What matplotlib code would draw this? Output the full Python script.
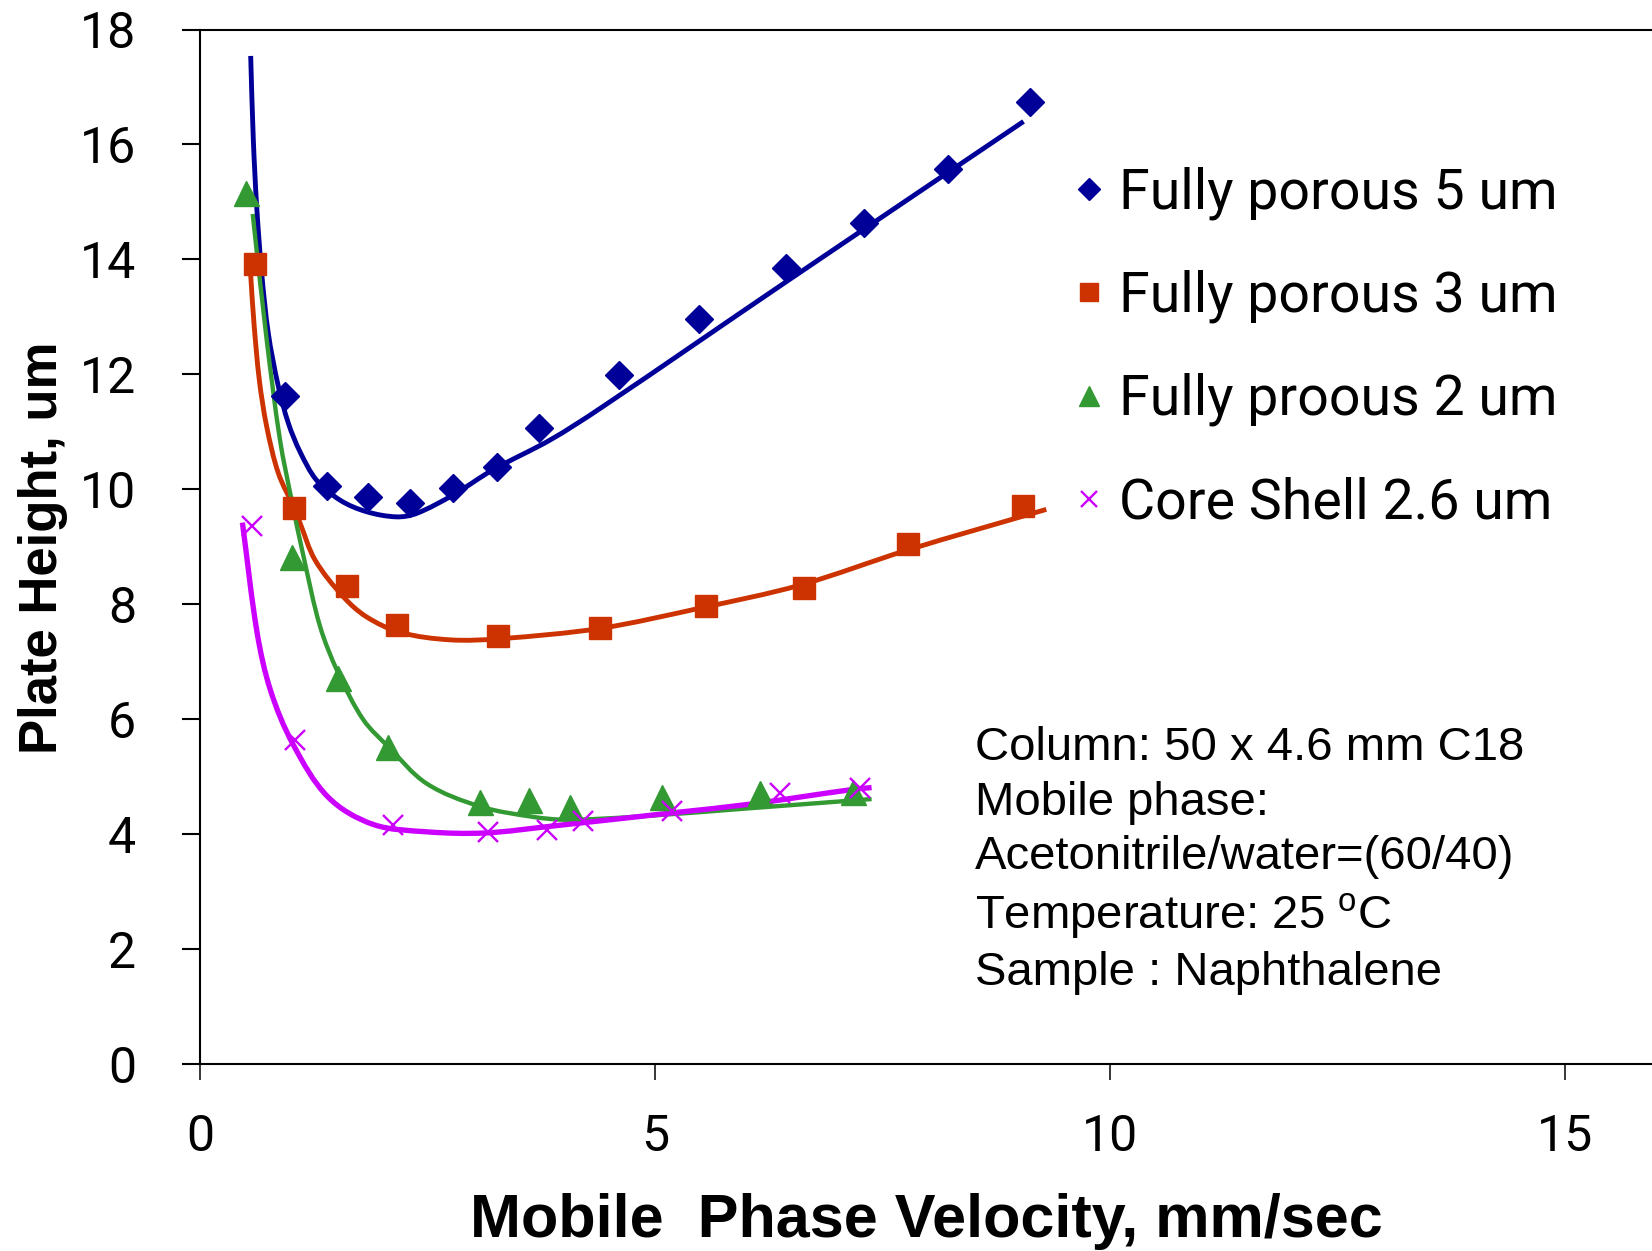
import matplotlib
matplotlib.use("Agg")
import matplotlib.pyplot as plt
from matplotlib import font_manager
from matplotlib.path import Path
from matplotlib.patches import PathPatch
import numpy as np

names = {f.name for f in font_manager.fontManager.ttflist}
NARROW = "Liberation Sans Narrow" if "Liberation Sans Narrow" in names else "Roboto"
SANS = "Liberation Sans"

plt.rcParams['mathtext.fontset'] = 'custom'
plt.rcParams['mathtext.rm'] = SANS

# ---------------- data ----------------
fp5_x = [0.934, 1.392, 1.85, 2.31, 2.78, 3.26, 3.72, 4.60, 5.48, 6.44, 7.30, 8.22, 9.12]
fp5_y = [11.63, 10.05, 9.87, 9.76, 10.02, 10.39, 11.07, 11.99, 12.96, 13.85, 14.63, 15.57, 16.73]
fp5_fit_x = [0.557, 0.586, 0.623, 0.678, 0.751, 0.861, 0.971, 1.10, 1.28, 1.54, 1.83, 2.16, 2.38,
             2.78, 3.22, 3.85, 4.40, 6.45, 9.05]
fp5_fit_y = [17.54, 16.08, 14.92, 13.76, 12.71, 11.79, 11.15, 10.65, 10.16, 9.81, 9.61, 9.52, 9.58,
             9.90, 10.34, 10.86, 11.41, 13.62, 16.40]

fp3_x = [0.604, 1.036, 1.62, 2.16, 3.27, 4.40, 5.56, 6.64, 7.78, 9.04]
fp3_y = [13.92, 9.67, 8.31, 7.63, 7.45, 7.58, 7.97, 8.28, 9.05, 9.71]
fp3_fit_x = [0.557, 0.593, 0.652, 0.733, 0.861, 1.036, 1.10, 1.264, 1.575, 1.83, 2.20, 2.75, 3.30,
             4.40, 5.49, 6.59, 7.77, 9.30]
fp3_fit_y = [13.73, 12.89, 11.90, 11.09, 10.28, 9.67, 9.41, 8.77, 8.13, 7.78, 7.51, 7.38, 7.40,
             7.58, 7.93, 8.33, 8.94, 9.65]

fp2_x = [0.502, 1.01, 1.52, 2.07, 3.08, 3.61, 4.07, 5.08, 6.15, 7.18]
fp2_y = [15.16, 8.82, 6.71, 5.51, 4.56, 4.59, 4.48, 4.64, 4.71, 4.74]
fp2_fit_x = [0.579, 0.733, 0.879, 1.007, 1.135, 1.32, 1.52, 1.795, 2.07, 2.49, 3.08, 3.66, 4.03,
             4.76, 6.04, 7.38]
fp2_fit_y = [14.79, 12.60, 10.86, 9.81, 8.85, 7.61, 6.80, 5.99, 5.52, 4.88, 4.48, 4.30, 4.25,
             4.30, 4.45, 4.61]

cs_x = [0.568, 1.044, 2.12, 3.17, 3.81, 4.21, 5.19, 6.37, 7.25]
cs_y = [9.36, 5.64, 4.16, 4.04, 4.07, 4.22, 4.41, 4.71, 4.81]
cs_fit_x = [0.466, 0.628, 0.775, 1.02, 1.41, 1.90, 2.49, 3.13, 3.87, 5.19, 6.04, 7.14, 7.38]
cs_fit_y = [9.42, 7.50, 6.50, 5.57, 4.64, 4.17, 4.04, 4.02, 4.14, 4.37, 4.52, 4.77, 4.81]

labels = ["Fully porous 5 um", "Fully porous 3 um", "Fully proous 2 um", "Core Shell 2.6 um"]
x_ticks = [0, 5, 10, 15]
y_ticks = [0, 2, 4, 6, 8, 10, 12, 14, 16, 18]
note_lines = ["Column: 50 x 4.6 mm C18", "Mobile phase:", "Acetonitrile/water=(60/40)",
              "Temperature: 25 $^{\\mathrm{o}}$C", "Sample : Naphthalene"]

# ---------------- figure ----------------
W, H = 1652, 1251
fig = plt.figure(figsize=(W / 100, H / 100), dpi=100)
ax = fig.add_axes([200 / W, 1 - 1064 / H, 1 - 200 / W, (1064 - 29.5) / H])

BLUE, RED, GREEN, MAG = "#000099", "#CC3300", "#339933", "#CC00FF"
LW = 3.5


def smooth_line(ax, xs, ys, color, lw):
    """Excel-style smoothed line: cubic Bezier segments through the given points."""
    P = np.column_stack([xs, ys]).astype(float)
    sx, sy = 91.0, 57.47          # metric so tangents are computed in screen-like space
    Q = P * [sx, sy]
    n = len(Q)
    T = np.zeros_like(Q)
    for i in range(n):
        a = Q[max(i - 1, 0)]
        b = Q[min(i + 1, n - 1)]
        d = b - a
        T[i] = d / np.linalg.norm(d)
    verts = [tuple(P[0])]
    codes = [Path.MOVETO]
    for i in range(n - 1):
        L = np.linalg.norm(Q[i + 1] - Q[i]) / 3.0
        c1 = (Q[i] + T[i] * L) / [sx, sy]
        c2 = (Q[i + 1] - T[i + 1] * L) / [sx, sy]
        verts += [tuple(c1), tuple(c2), tuple(P[i + 1])]
        codes += [Path.CURVE4] * 3
    ax.add_patch(PathPatch(Path(verts, codes), fill=False, edgecolor=color, lw=lw,
                           capstyle="butt", joinstyle="round", zorder=2))


smooth_line(ax, fp5_fit_x, fp5_fit_y, BLUE, LW)
smooth_line(ax, fp3_fit_x, fp3_fit_y, RED, LW)
smooth_line(ax, fp2_fit_x, fp2_fit_y, GREEN, LW * 0.9)
smooth_line(ax, cs_fit_x, cs_fit_y, MAG, LW * 1.1)

h1, = ax.plot(fp5_x, fp5_y, ls="none", marker="D", ms=14, color=BLUE, mec=BLUE, label=labels[0], zorder=3)
h2, = ax.plot(fp3_x, fp3_y, ls="none", marker="s", ms=16.5, color=RED, mec=RED, label=labels[1], zorder=3)
h3, = ax.plot(fp2_x, fp2_y, ls="none", marker="^", ms=18, color=GREEN, mec=GREEN, label=labels[2], zorder=3)
h4, = ax.plot(cs_x, cs_y, ls="none", marker="x", ms=15, mew=1.7, color=MAG, label=labels[3], zorder=3)

ax.set_xlim(0, (W - 200) / 91.0)
ax.set_ylim(0, 18)
ax.set_xticks(x_ticks)
ax.set_yticks(y_ticks)
ax.set_xticklabels([str(t) for t in x_ticks], fontfamily=NARROW, fontsize=36)
ax.set_yticklabels([str(t) for t in y_ticks], fontfamily=NARROW, fontsize=36)
ax.tick_params(axis="y", direction="out", length=13, width=1.5, pad=33)
ax.tick_params(axis="x", direction="out", length=11.5, width=1.1, pad=24)

for s in ["left", "bottom", "top"]:
    ax.spines[s].set_linewidth(1.5)
ax.spines["right"].set_visible(False)

ax.set_xlabel("Mobile  Phase Velocity, mm/sec", fontfamily=SANS, fontweight="bold", fontsize=44)
ax.xaxis.set_label_coords(0.5, -0.125)
ax.set_ylabel("Plate Height, um", fontfamily=SANS, fontweight="bold", fontsize=38)
ax.yaxis.set_label_coords(-0.108, 0.499)
ax.yaxis.label.set_va("center")

leg = ax.legend(handles=[h1, h2, h3, h4], loc="upper left",
                bbox_to_anchor=(1072 / W, 1 - 166 / H), bbox_transform=fig.transFigure,
                frameon=False, prop={"family": NARROW, "size": 40},
                handlelength=0.6, handletextpad=0.25, labelspacing=0.9, borderpad=0,
                borderaxespad=0, markerscale=0.8)

ax.text(975 / W, 1 - 726 / H, "\n".join(note_lines), transform=fig.transFigure,
        fontfamily=SANS, fontsize=34, va="top", ha="left", linespacing=1.31)

fig.savefig("out.png", dpi=100)
